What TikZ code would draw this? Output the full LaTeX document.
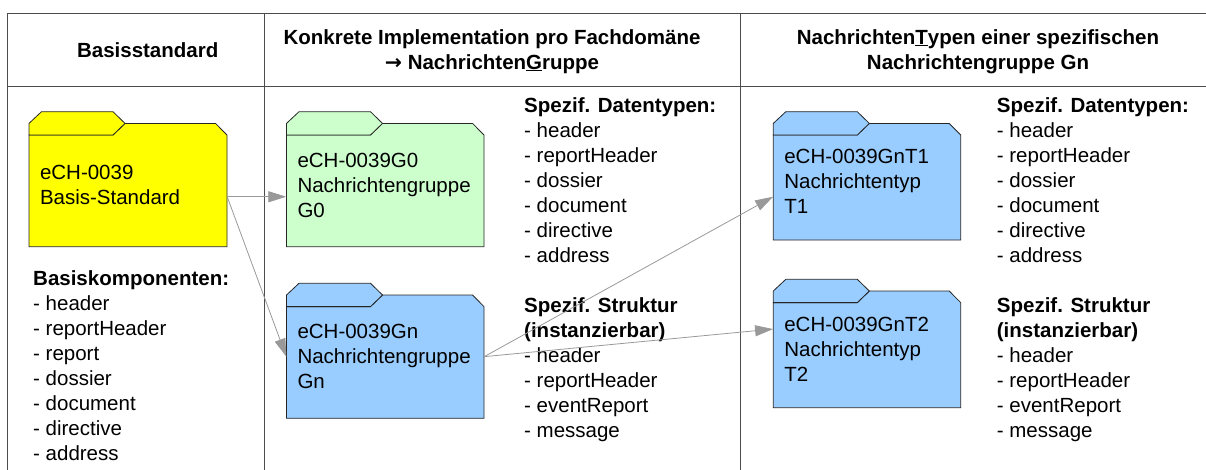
\documentclass[tikz,border=0pt]{standalone}
\usepackage{fontspec}
\setmainfont{Liberation Sans}
\newfontfamily\arrowfont{DejaVu Sans}
\usetikzlibrary{arrows.meta}
\definecolor{folderyellow}{HTML}{FFFF00}
\definecolor{foldergreen}{HTML}{CCFFCC}
\definecolor{folderblue}{HTML}{99CCFF}
\definecolor{linkgray}{HTML}{999999}

\begin{document}
\begin{tikzpicture}[x=1pt,y=-1pt]

    \tikzset{
      grid/.style={color=black!70,line width=1},
      folder/.style={draw=black!85,line width=0.8},
      folderbody/.style={inner sep=0pt},
      foldertext/.style={anchor=west,align=left,inner sep=0pt,font=\fontsize{20.5}{25}\selectfont},
      heading/.style={align=center,inner sep=0pt,font=\bfseries\fontsize{20.5}{25}\selectfont},
      listing/.style={anchor=base west,align=left,inner sep=0pt,font=\fontsize{20.5}{25}\selectfont},
      link/.style={draw=linkgray,line width=0.8,-{Triangle[length=18pt,width=11pt]}},
    }
    \useasboundingbox (0,0) rectangle (1206,469);
    \clip (0,0) rectangle (1206,469);

	\draw[grid] (7.3,13.3)--(1220,13.3);
	\draw[grid] (7.3,86.5)--(1220,86.5);
	\draw[grid] (7.3,13.3)--(7.3,480);
	\draw[grid] (264.3,13.3)--(264.3,480);
	\draw[grid] (740.5,13.3)--(740.5,480);

	\node[heading,anchor=base] (hbasis) at (147.7,57) {Basisstandard};
	\node[heading,anchor=base] (hgroup) at (492,69) {Konkrete Implementation pro Fachdomäne\\{\arrowfont →} Nachrichten\underline{G}ruppe};
	\node[heading,anchor=base] (htype) at (978,69) {Nachrichten\underline{T}ypen einer spezifischen\\Nachrichtengruppe Gn};

	\foreach \n/\xl/\yt/\xr/\yb/\c/\txt in {
	  basis/29/111.7/227/246.7/folderyellow/{eCH-0039\\Basis-Standard},
	  grpGzero/286.5/111.7/484/246.7/foldergreen/{eCH-0039G0\\Nachrichtengruppe\\G0},
	  grpGn/286.5/283.3/484/418.3/folderblue/{eCH-0039Gn\\Nachrichtengruppe\\Gn},
	  typTone/773.3/111.7/960.7/240/folderblue/{eCH-0039GnT1\\Nachrichtentyp\\T1},
	  typTtwo/773.3/279.3/960.7/407.7/folderblue/{eCH-0039GnT2\\Nachrichtentyp\\T2}}{
	  \filldraw[folder,fill=\c] (\xl,\yt+23.3)--(\xl+84,\yt+23.3)--(\xl+96,\yt+11.7)--(\xr-11.5,\yt+11.7)--(\xr,\yt+23.3)--(\xr,\yb)--(\xl,\yb)--cycle;
	  \filldraw[folder,fill=\c] (\xl,\yt+11.7)--(\xl+12.5,\yt)--(\xl+84,\yt)--(\xl+96,\yt+11.7)--(\xl+84,\yt+23.3)--(\xl,\yt+23.3)--cycle;
	  \node[folderbody,minimum width=\xr-\xl,minimum height=\yb-\yt-11.7] (\n) at ({(\xl+\xr)/2},{(\yt+11.7+\yb)/2}) {};
	  \node[foldertext] at ([xshift=11pt]\n.west) {\txt};
	}

	\node[listing] (basislist) at (33,460) {\textbf{Basiskomponenten:}\\- header\\- reportHeader\\- report\\- dossier\\- document\\- directive\\- address};
	\node[listing] (grouplist) at (524,437) {\textbf{Spezif. Datentypen:}\\- header\\- reportHeader\\- dossier\\- document\\- directive\\- address\\[25pt]\textbf{Spezif. Struktur}\\\textbf{(instanzierbar)}\\- header\\- reportHeader\\- eventReport\\- message};
	\node[listing] (typelist) at (996.7,437) {\textbf{Spezif. Datentypen:}\\- header\\- reportHeader\\- dossier\\- document\\- directive\\- address\\[25pt]\textbf{Spezif. Struktur}\\\textbf{(instanzierbar)}\\- header\\- reportHeader\\- eventReport\\- message};

	\draw[link] ([yshift=-11.7pt]basis.east) -- ([yshift=-11.7pt]grpGzero.west);
	\draw[link] ([yshift=-11.7pt]basis.east) -- (grpGn.west);
	\draw[link] (grpGn.east) -- ([yshift=-15pt]typTone.west);
	\draw[link] (grpGn.east) -- ([yshift=20.3pt]typTtwo.west);

\end{tikzpicture}
\end{document}
